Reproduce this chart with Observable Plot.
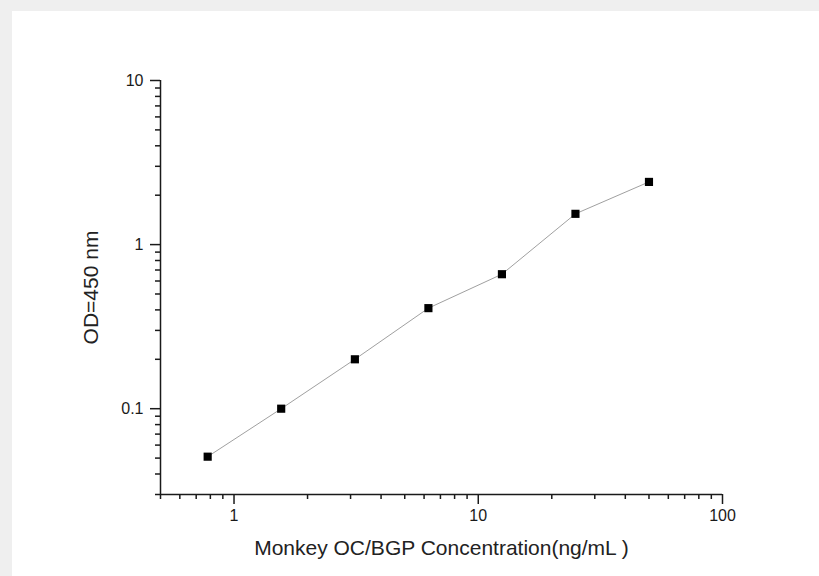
<!DOCTYPE html>
<html>
<head>
<meta charset="utf-8">
<script src="https://cdn.jsdelivr.net/npm/d3@7"></script>
<script src="https://cdn.jsdelivr.net/npm/@observablehq/plot@0.6"></script>
<style>
  html, body { margin: 0; padding: 0; background: #efefef; width: 819px; height: 576px; overflow: hidden; }
  #panel { position: absolute; left: 12px; top: 11px; width: 807px; height: 565px; background: #ffffff; }
  #chart { position: absolute; left: 0; top: 0; }
</style>
</head>
<body>
<div id="panel"></div>
<div id="chart"></div>
<script>
// Data
const concentration = [0.78, 1.56, 3.125, 6.25, 12.5, 25, 50];
const od450 = [0.051, 0.1, 0.2, 0.41, 0.66, 1.54, 2.41];

const xMajorTicks = [1, 10, 100];
const xMinorTicks = [0.5, 0.6, 0.7, 0.8, 0.9, 2, 3, 4, 5, 6, 7, 8, 9, 20, 30, 40, 50, 60, 70, 80, 90];
const yMajorTicks = [0.1, 1, 10];
const yMinorTicks = [0.03, 0.04, 0.05, 0.06, 0.07, 0.08, 0.09, 0.2, 0.3, 0.4, 0.5, 0.6, 0.7, 0.8, 0.9, 2, 3, 4, 5, 6, 7, 8, 9];
const xDomain = [0.5, 100];
const yDomain = [0.03, 10];

const xTitle = "Monkey OC/BGP Concentration(ng/mL )";
const yTitle = "OD=450 nm";

const points = concentration.map((c, i) => ({c, od: od450[i]}));

const font = "Liberation Sans, Arial, Helvetica, sans-serif";
const axisColor = "#1a1a1a";

const chart = Plot.plot({
  width: 819,
  height: 576,
  marginLeft: 160,
  marginRight: 97,
  marginTop: 80,
  marginBottom: 82,
  style: {background: "transparent", fontFamily: font, color: axisColor},
  x: {type: "log", domain: xDomain, axis: null},
  y: {type: "log", domain: yDomain, axis: null},
  marks: [
    Plot.axisX(xMinorTicks, {anchor: "bottom", label: null, tickSize: 5, tickFormat: () => "", strokeWidth: 1.5, stroke: axisColor}),
    Plot.axisX(xMajorTicks, {anchor: "bottom", label: null, tickSize: 10, tickPadding: 5, tickFormat: d => String(d), fontSize: 16, strokeWidth: 1.5, stroke: axisColor, fill: axisColor}),
    Plot.axisY(yMinorTicks, {anchor: "left", label: null, tickSize: 5, tickFormat: () => "", strokeWidth: 1.5, stroke: axisColor}),
    Plot.axisY(yMajorTicks, {anchor: "left", label: null, tickSize: 10, tickPadding: 7, tickFormat: d => String(d), fontSize: 16, strokeWidth: 1.5, stroke: axisColor, fill: axisColor}),
    Plot.ruleX([xDomain[0]], {stroke: axisColor, strokeWidth: 1.5}),
    Plot.ruleY([yDomain[0]], {stroke: axisColor, strokeWidth: 1.5}),
    Plot.line(points, {x: "c", y: "od", stroke: "#a0a0a0", strokeWidth: 1}),
    Plot.dot(points, {x: "c", y: "od", symbol: "square", r: 4.6, fill: "#000", stroke: "none"}),
    Plot.text([xTitle], {frameAnchor: "bottom", dy: 54, textAnchor: "middle", lineAnchor: "middle", fontSize: 21, fill: "#222"}),
    Plot.text([yTitle], {frameAnchor: "left", dx: -69, rotate: -90, textAnchor: "middle", lineAnchor: "middle", fontSize: 21, fill: "#222"})
  ]
});
document.getElementById("chart").appendChild(chart);
</script>
</body>
</html>
